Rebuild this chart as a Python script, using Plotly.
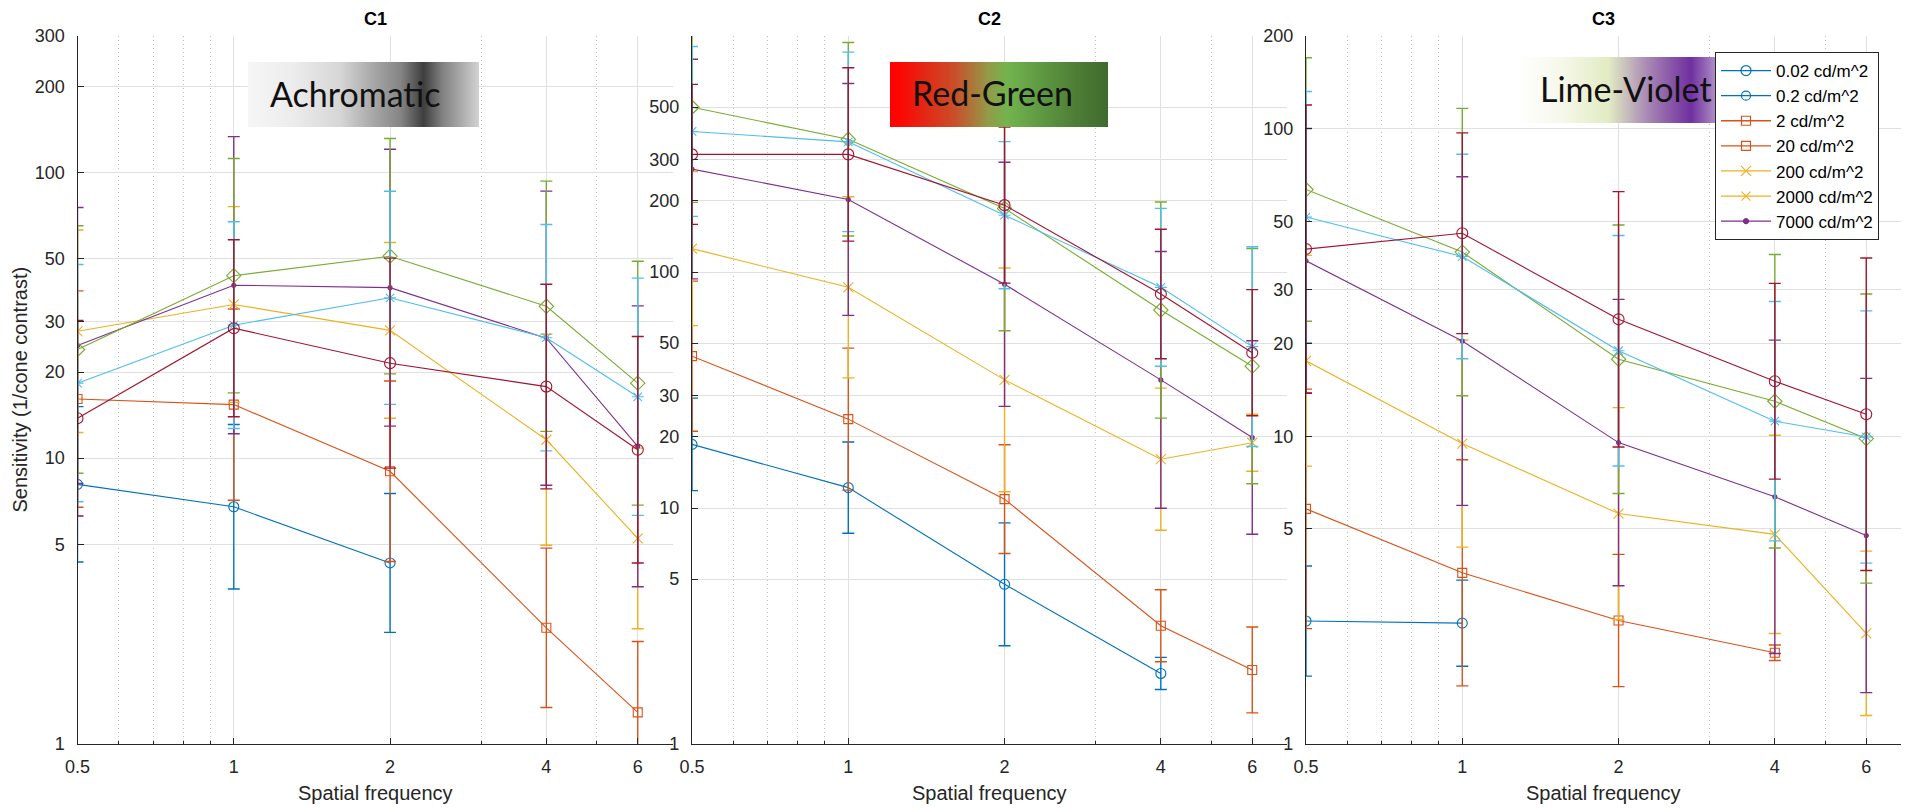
import base64
import math
import plotly.graph_objects as go

# ---------------- data ----------------
SPATIAL_FREQ = [0.5, 1, 2, 4, 6]
X_TICK_TEXT = ["0.5", "1", "2", "4", "6"]
LUMINANCE_LABELS = ["0.02 cd/m^2", "0.2 cd/m^2", "2 cd/m^2", "20 cd/m^2",
                    "200 cd/m^2", "2000 cd/m^2", "7000 cd/m^2"]
PANEL_TITLES = ["C1", "C2", "C3"]
PANEL_LABELS = ["Achromatic", "Red-Green", "Lime-Violet"]

# sensitivities, one row per series (order: blue, orange, yellow, purple, green, cyan, dark red)
C1_SENS = [
    [8.1, 6.76, 4.3, None, None],
    [16.1, 15.4, 9.0, 2.55, 1.29],
    [27.8, 34.5, 28.0, 11.6, 5.24],
    [24.8, 40.3, 39.5, 26.3, 11.0],
    [24.0, 43.5, 50.9, 34.0, 18.3],
    [18.3, 29.2, 36.4, 26.4, 16.4],
    [13.8, 28.5, 21.5, 17.8, 10.7],
]
# multiplicative (log-symmetric) error-bar factors
C1_ERRF = [
    [1.87, 1.94, 1.75, None, None],
    [2.39, 2.16, 2.07, 1.90, 1.77],
    [2.26, 2.20, 2.03, 2.34, 2.07],
    [3.04, 3.31, 3.05, 3.27, 3.10],
    [2.71, 2.57, 2.58, 2.74, 2.67],
    [2.60, 2.30, 2.36, 2.49, 2.60],
    [2.20, 2.04, 2.33, 2.28, 2.49],
]
C2_SENS = [
    [18.6, 12.2, 4.75, 1.99, None],
    [44.0, 23.8, 10.9, 3.17, 2.06],
    [125.6, 86.1, 34.9, 16.1, 18.9],
    [273, 203, 88.7, 34.9, 19.9],
    [499, 365, 186, 69.0, 39.9],
    [394, 356, 174, 86.1, 48.3],
    [315, 315, 192, 80.7, 45.5],
]
C2_ERRF = [
    [1.57, 1.56, 1.82, 1.17, None],
    [2.08, 2.00, 1.70, 1.42, 1.52],
    [2.12, 2.42, 2.98, 2.00, 1.32],
    [2.92, 3.10, 3.29, 3.50, 2.57],
    [2.53, 2.57, 3.30, 2.87, 3.15],
    [2.29, 2.40, 2.05, 2.16, 2.65],
    [1.98, 2.33, 2.14, 1.88, 1.85],
]
C3_SENS = [
    [2.51, 2.47, None, None, None],
    [5.81, 3.6, 2.52, 1.98, None],
    [17.6, 9.47, 5.61, 4.8, 2.29],
    [37.2, 20.4, 9.54, 6.36, 4.76],
    [63.4, 39.7, 17.8, 13.0, 9.83],
    [51.6, 38.4, 18.97, 11.2, 9.95],
    [40.6, 45.7, 24.0, 15.1, 11.8],
]
C3_ERRF = [
    [1.51, 1.38, None, None, None],
    [2.45, 2.33, 1.64, 1.06, None],
    [2.20, 2.17, 2.21, 2.10, 1.85],
    [2.69, 3.42, 2.92, 3.23, 3.24],
    [2.68, 2.93, 2.73, 3.00, 2.95],
    [2.56, 2.15, 2.37, 2.45, 2.57],
    [2.94, 2.12, 2.60, 2.08, 3.22],
]
Y_TICKS = [
    [1, 5, 10, 20, 30, 50, 100, 200, 300],
    [1, 5, 10, 20, 30, 50, 100, 200, 300, 500],
    [1, 5, 10, 20, 30, 50, 100, 200],
]
Y_MAX = [300, 1000, 200]
X_MAX = 7
X_MINOR = [0.6, 0.7, 0.8, 0.9, 3, 5, 7]

# ---------------- styling ----------------
COLORS = ["#0072BD", "#D95319", "#EDB120", "#7E2F8E", "#77AC30", "#4DBEEE", "#A2142F"]
SYMBOLS = ["circle-open", "square-open", "x-thin-open", "circle", "diamond-open",
           "asterisk-open", "circle-open"]
SIZES = [10, 9, 10, 4, 11, 10, 11]

# legend as displayed in the reference (MATLAB picked the first 7 graphic objects)
LEG_COLORS = ["#0072BD", "#0072BD", "#D95319", "#D95319", "#EDB120", "#EDB120", "#7E2F8E"]
LEG_SYMBOLS = ["circle-open", "circle-open", "square-open", "square-open",
               "x-thin-open", "x-thin-open", "circle"]
LEG_SIZES = [10, 9, 9, 9, 10, 9, 5]

W, H = 1905, 810
AX_X = [(77.5, 672.5), (692, 1287), (1306, 1901)]
AX_TOP, AX_BOT = 36, 744
TXT = "#262626"
FONT = "Liberation Sans, Arial, sans-serif"


def px(x):
    return x / W


def py(y):
    return 1 - y / H


fig = go.Figure()

panels = [(C1_SENS, C1_ERRF), (C2_SENS, C2_ERRF), (C3_SENS, C3_ERRF)]
for p, (sens, errf) in enumerate(panels):
    k = "" if p == 0 else str(p + 1)
    for s in range(7):
        ys = sens[s]
        fs = errf[s]
        up = [None if (v is None) else v * f - v for v, f in zip(ys, fs)]
        dn = [None if (v is None) else v - v / f for v, f in zip(ys, fs)]
        fig.add_trace(go.Scatter(
            x=SPATIAL_FREQ, y=ys, xaxis="x" + k, yaxis="y" + k,
            mode="lines+markers", name=LUMINANCE_LABELS[s], showlegend=False,
            line=dict(color=COLORS[s], width=1.1),
            marker=dict(symbol=SYMBOLS[s], size=SIZES[s], color=COLORS[s],
                        line=dict(color=COLORS[s], width=1.1)),
            error_y=dict(type="data", symmetric=False, array=up, arrayminus=dn,
                         color=COLORS[s], thickness=1.4, width=6),
        ))

# legend entries
for s in range(7):
    fig.add_trace(go.Scatter(
        x=[None], y=[None], xaxis="x3", yaxis="y3", mode="lines+markers",
        name=LUMINANCE_LABELS[s], showlegend=True,
        line=dict(color=LEG_COLORS[s], width=1.3),
        marker=dict(symbol=LEG_SYMBOLS[s], size=LEG_SIZES[s], color=LEG_COLORS[s],
                    line=dict(color=LEG_COLORS[s], width=1.2)),
    ))

layout = dict(
    template="none",
    width=W, height=H, margin=dict(l=0, r=0, t=0, b=0, pad=0, autoexpand=False),
    paper_bgcolor="white", plot_bgcolor="white",
    font=dict(family=FONT, size=18, color=TXT),
    showlegend=True,
    legend=dict(x=px(1715), y=py(52), xanchor="left", yanchor="top",
                bgcolor="white", bordercolor=TXT, borderwidth=1,
                font=dict(family=FONT, size=17, color="#000"),
                itemwidth=50, tracegroupgap=0),
)

for p in range(3):
    k = "" if p == 0 else str(p + 1)
    x0, x1 = AX_X[p]
    layout["xaxis" + k] = dict(
        domain=[px(x0), px(x1)], anchor="y" + k, type="log", automargin=False,
        range=[math.log10(SPATIAL_FREQ[0]), math.log10(X_MAX)],
        tickmode="array", tickvals=SPATIAL_FREQ, ticktext=X_TICK_TEXT,
        ticks="inside", ticklen=6, tickcolor=TXT, tickwidth=1,
        showline=True, linecolor=TXT, linewidth=1.2, mirror=False,
        showgrid=True, gridcolor="#e0e0e0", gridwidth=1, zeroline=False,
        tickfont=dict(family=FONT, size=18, color=TXT), ticklabelstandoff=6,
        minor=dict(tickmode="array", tickvals=X_MINOR, ticks="inside", ticklen=3,
                   tickcolor=TXT, showgrid=True, gridcolor="#c0c0c0",
                   griddash="1px,3px", gridwidth=1),
        fixedrange=True,
    )
    layout["yaxis" + k] = dict(
        domain=[py(AX_BOT), py(AX_TOP)], anchor="x" + k, type="log", automargin=False,
        range=[0, math.log10(Y_MAX[p])],
        tickmode="array", tickvals=Y_TICKS[p], ticktext=[str(t) for t in Y_TICKS[p]],
        ticks="inside", ticklen=6, tickcolor=TXT, tickwidth=1,
        showline=True, linecolor=TXT, linewidth=1.2, mirror=False,
        showgrid=True, gridcolor="#e0e0e0", gridwidth=1, zeroline=False,
        tickfont=dict(family=FONT, size=18, color=TXT), ticklabelstandoff=8,
        fixedrange=True,
    )

annotations = []
for p in range(3):
    x0, x1 = AX_X[p]
    cx = (x0 + x1) / 2
    annotations.append(dict(text="<b>" + PANEL_TITLES[p] + "</b>", x=px(cx), y=py(19.5),
                            xref="paper", yref="paper", showarrow=False,
                            xanchor="center", yanchor="middle",
                            font=dict(family=FONT, size=18, color="#000")))
    annotations.append(dict(text="Spatial frequency", x=px(cx), y=py(793),
                            xref="paper", yref="paper", showarrow=False,
                            xanchor="center", yanchor="middle",
                            font=dict(family=FONT, size=20, color=TXT)))
annotations.append(dict(text="Sensitivity (1/cone contrast)", x=px(19.5), y=py(390),
                        xref="paper", yref="paper", showarrow=False, textangle=-90,
                        xanchor="center", yanchor="middle",
                        font=dict(family=FONT, size=20, color=TXT)))

# gradient label boxes
BOXES = [
    (248, 62, 231, 65, [(0, "#f6f6f6"), (0.2, "#ececec"), (0.4, "#d6d6d6"), (0.54, "#a8a8a8"),
                        (0.66, "#858585"), (0.76, "#3e3e3e"), (0.84, "#808080"),
                        (1.0, "#d2d2d2")], 268, 95),
    (890, 62, 218, 65, [(0, "#ff0000"), (0.05, "#fa0804"), (0.3, "#c8502a"), (0.45, "#939a48"),
                        (0.54, "#72b44e"), (0.7, "#5e9842"), (0.85, "#4e7e36"),
                        (1.0, "#3f6a2d")], 910, 94),
    (1518, 57, 216, 66, [(0, "#ffffff"), (0.2, "#f6f8ea"), (0.42, "#e2ebc2"), (0.5, "#c8c0bc"),
                         (0.6, "#a888b4"), (0.7, "#8c5aa8"), (0.8, "#7030a0"),
                         (0.88, "#9a70b8"), (1.0, "#e0dae8")], 1538, 90.5),
]
images = []
for (bx, by, bw, bh, stops, tx, ty), label in zip(BOXES, PANEL_LABELS):
    svg = ('<svg xmlns="http://www.w3.org/2000/svg" width="%d" height="%d" '
           'viewBox="0 0 %d %d" preserveAspectRatio="none"><defs>'
           '<linearGradient id="g" x1="0" y1="0" x2="1" y2="0">' % (bw, bh, bw, bh)
           + "".join('<stop offset="%g" stop-color="%s"/>' % (o, c) for o, c in stops)
           + '</linearGradient></defs><rect width="%d" height="%d" fill="url(#g)"/></svg>'
           % (bw, bh))
    uri = "data:image/svg+xml;base64," + base64.b64encode(svg.encode()).decode()
    images.append(dict(source=uri, xref="paper", yref="paper", x=px(bx), y=py(by),
                       sizex=bw / W, sizey=bh / H, sizing="stretch",
                       xanchor="left", yanchor="top", layer="above"))
    annotations.append(dict(text=label, x=px(tx), y=py(ty - 2), xref="paper", yref="paper",
                            showarrow=False, xanchor="left", yanchor="middle",
                            font=dict(family="Lato, Open Sans, sans-serif", size=34,
                                      color="#111111")))

layout["annotations"] = annotations
layout["images"] = images
fig.update_layout(**layout)

fig.write_html("out.html")
